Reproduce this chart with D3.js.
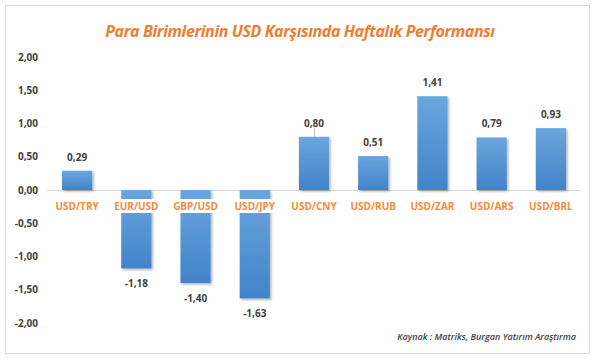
<!DOCTYPE html>
<html><head><meta charset="utf-8">
<script src="https://cdn.jsdelivr.net/npm/d3@7/dist/d3.min.js"></script>
<style>body{margin:0;background:#fff;} svg{display:block;}</style>
</head><body>
<svg id="c" width="599" height="360"></svg>
<script>
const categories = ["USD/TRY","EUR/USD","GBP/USD","USD/JPY","USD/CNY","USD/RUB","USD/ZAR","USD/ARS","USD/BRL"];
const values = [0.29,-1.18,-1.40,-1.63,0.80,0.51,1.41,0.79,0.93];
const yTicks = [2,1.5,1,0.5,0,-0.5,-1,-1.5,-2];
const title = "Para Birimlerinin USD Karşısında Haftalık Performansı";
const source = "Kaynak : Matriks, Burgan Yatırım Araştırma";

const svg = d3.select("#c");
const fmt = v => d3.format(".2f")(v).replace(".", ",").replace("−","-");

svg.append("rect").attr("x",5.5).attr("y",5.5).attr("width",584).attr("height",348)
  .attr("fill","#fff").attr("stroke","#d9d9d9");

const defs = svg.append("defs");
const g = defs.append("linearGradient").attr("id","bg").attr("x1",0).attr("y1",0).attr("x2",0).attr("y2",1);
g.append("stop").attr("offset","0%").attr("stop-color","#6aa6de");
g.append("stop").attr("offset","100%").attr("stop-color","#4283c9");
const f = defs.append("filter").attr("id","sh").attr("x","-20%").attr("y","-20%").attr("width","150%").attr("height","150%");
f.append("feDropShadow").attr("dx",1.5).attr("dy",1.5).attr("stdDeviation",1.2).attr("flood-color","#000").attr("flood-opacity",0.3);

const x = d3.scaleBand().domain(categories).range([47.5,580.5]).paddingInner(0.49).paddingOuter(0.245);
const y = d3.scaleLinear().domain([-2,2]).range([323,57]);

svg.append("text").attr("x",300).attr("y",37).attr("text-anchor","middle")
  .attr("font-family","Open Sans, sans-serif").attr("font-style","italic").attr("font-weight","bold")
  .attr("font-size",16).attr("fill","#f07d2f").attr("letter-spacing",-0.4).text(title);

const yAxis = d3.axisLeft(y).tickValues(yTicks).tickSize(0).tickFormat(fmt);
const ya = svg.append("g").attr("transform","translate(38,0)").call(yAxis);
ya.select(".domain").remove();
ya.selectAll("text").attr("font-family","Open Sans, sans-serif").attr("font-weight","bold")
  .attr("font-size",10).attr("fill","#404040").attr("x",0);

svg.append("line").attr("x1",47).attr("x2",581).attr("y1",y(0)+0.5).attr("y2",y(0)+0.5)
  .attr("stroke","#d9d9d9").attr("stroke-width",1);

svg.selectAll("rect.bar").data(values).join("rect").attr("class","bar")
  .attr("x",(d,i)=>x(categories[i])).attr("width",x.bandwidth())
  .attr("y",d=>y(Math.max(0,d))).attr("height",d=>Math.abs(y(d)-y(0)))
  .attr("fill","url(#bg)").attr("filter","url(#sh)");

svg.selectAll("text.val").data(values).join("text").attr("class","val")
  .attr("x",(d,i)=>x(categories[i])+x.bandwidth()/2)
  .attr("y",d=> d>=0 ? y(d)-10 : y(d)+19)
  .attr("text-anchor","middle").attr("font-family","Open Sans, sans-serif").attr("font-weight","bold")
  .attr("font-size",10).attr("fill","#404040").text(fmt);

// leader line for USD/CNY label
const ci = 4;
svg.append("line").attr("x1",x(categories[ci])+x.bandwidth()/2+0.5).attr("x2",x(categories[ci])+x.bandwidth()/2+0.5)
  .attr("y1",y(values[ci])-9).attr("y2",y(values[ci])).attr("stroke","#bfbfbf");

const xAxis = d3.axisBottom(x).tickSize(0);
const xa = svg.append("g").attr("transform",`translate(0,${y(0)+10})`).call(xAxis);
xa.select(".domain").remove();
xa.selectAll(".tick").each(function(){
  d3.select(this).insert("rect","text").attr("x",-22).attr("y",-1).attr("width",44).attr("height",14).attr("fill","#fff");
});
xa.selectAll("text").attr("font-family","Open Sans, sans-serif").attr("font-weight","bold")
  .attr("font-size",10).attr("fill","#f58a3c");

svg.append("text").attr("x",576).attr("y",340).attr("text-anchor","end")
  .attr("font-family","Open Sans, sans-serif").attr("font-style","italic").attr("font-weight","600")
  .attr("font-size",9).attr("fill","#404040").text(source);
</script>
</body></html>
